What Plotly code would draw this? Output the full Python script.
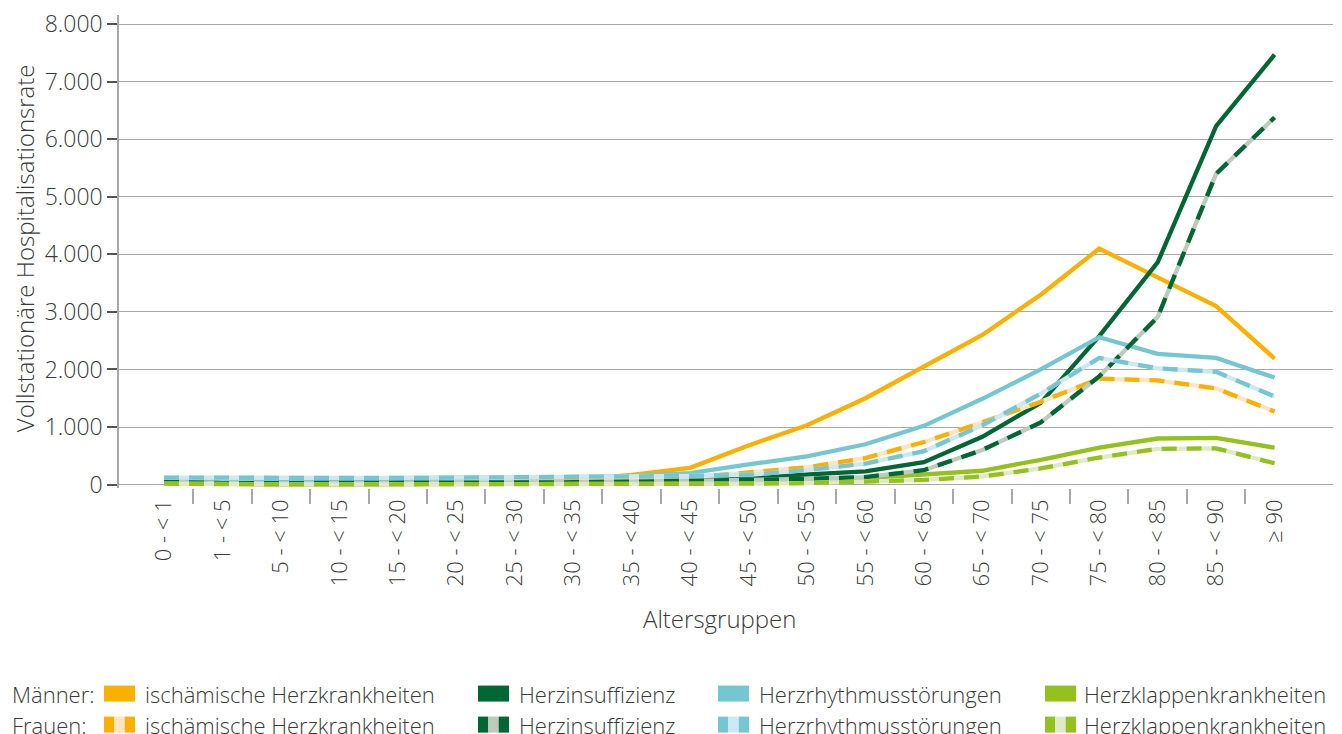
import plotly.graph_objects as go

ages = ["0 - < 1", "1 - < 5", "5 - < 10", "10 - < 15", "15 - < 20", "20 - < 25",
        "25 - < 30", "30 - < 35", "35 - < 40", "40 - < 45", "45 - < 50", "50 - < 55",
        "55 - < 60", "60 - < 65", "65 - < 70", "70 - < 75", "75 - < 80", "80 - < 85",
        "85 - < 90", "≥ 90"]

men_ischaemic = [20, 5, 5, 5, 10, 20, 40, 80, 170, 290, 680, 1030, 1500, 2040, 2600, 3300, 4100, 3600, 3100, 2190]
men_heartfailure = [50, 30, 30, 30, 30, 35, 40, 50, 60, 80, 120, 170, 230, 390, 830, 1420, 2580, 3860, 6230, 7470]
men_arrhythmia = [110, 100, 100, 105, 110, 110, 115, 130, 150, 200, 350, 490, 700, 1020, 1490, 2000, 2560, 2270, 2200, 1860]
men_valve = [20, 5, 5, 5, 5, 5, 5, 5, 10, 20, 30, 50, 110, 170, 240, 430, 640, 800, 810, 640]

women_ischaemic = [30, 20, 20, 20, 25, 30, 40, 55, 80, 125, 210, 300, 460, 740, 1080, 1440, 1840, 1810, 1670, 1270]
women_heartfailure = [50, 25, 25, 25, 25, 30, 35, 40, 50, 60, 80, 100, 130, 250, 600, 1080, 1880, 2910, 5400, 6380]
women_arrhythmia = [120, 115, 115, 115, 115, 120, 125, 130, 135, 150, 170, 250, 365, 580, 1030, 1580, 2200, 2020, 1960, 1530]
women_valve = [15, 3, 3, 3, 3, 3, 3, 3, 5, 10, 15, 25, 45, 80, 140, 280, 470, 620, 630, 370]

disease_names = ["ischämische Herzkrankheiten", "Herzinsuffizienz",
                 "Herzrhythmusstörungen", "Herzklappenkrankheiten"]
colors = ["#F9B000", "#006633", "#74C7D2", "#95C11F"]
light_colors = ["#FDE6BF", "#BCCBBB", "#CDE8F3", "#E1EAC6"]

men = [men_ischaemic, men_heartfailure, men_arrhythmia, men_valve]
women = [women_ischaemic, women_heartfailure, women_arrhythmia, women_valve]

FONT = "Open Sans"
WEIGHT = 300
TXT = "#3a3a3a"
OFF = 8  # default page body margin
W, H = 1342 - OFF, 734 - OFF
# page-pixel targets
PAGE_LEFT, PAGE_RIGHT, PAGE_TOP, PAGE_BOTTOM = 119, 1333, 15, 487.6
ML = PAGE_LEFT - OFF
MR = OFF + W - PAGE_RIGHT
MT = PAGE_TOP - OFF
MB = OFF + H - PAGE_BOTTOM
PW = PAGE_RIGHT - PAGE_LEFT
PH = PAGE_BOTTOM - PAGE_TOP

def px_x(px):
    return (px - PAGE_LEFT) / PW

def px_y(py):
    return (PAGE_BOTTOM - py) / PH

def fnt(size):
    return dict(family=FONT, size=size, color=TXT, weight=WEIGHT)

x = list(range(len(ages)))
fig = go.Figure()

for vals, c, name in zip(men, colors, disease_names):
    fig.add_trace(go.Scatter(x=x, y=vals, mode="lines", name="Männer: " + name,
                             line=dict(color=c, width=4.3), showlegend=False))

for vals, c, lc, name in zip(women, colors, light_colors, disease_names):
    fig.add_trace(go.Scatter(x=x, y=vals, mode="lines", hoverinfo="skip",
                             line=dict(color=lc, width=4.3), showlegend=False))
    fig.add_trace(go.Scatter(x=x, y=vals, mode="lines", name="Frauen: " + name,
                             line=dict(color=c, width=4.3, dash="15px,10px"),
                             showlegend=False))

fig.update_layout(
    width=W, height=H,
    margin=dict(l=ML, r=MR, t=MT, b=MB, pad=0, autoexpand=False),
    plot_bgcolor="white", paper_bgcolor="white",
    separators=",.",
    font=fnt(22),
)

fig.update_xaxes(
    range=[-0.77, 20.0], automargin=False,
    tickmode="array", tickvals=x, ticktext=ages,
    tickangle=-90, ticks="", showgrid=False, zeroline=False, showline=False,
    tickfont=fnt(22),
    ticklabelstandoff=6,
    minor=dict(tickmode="array", tickvals=[i + 0.5 for i in range(len(ages) - 1)],
               ticks="outside", ticklen=15, tickcolor="#a8a8a8", tickwidth=1.5,
               showgrid=False),
)

fig.update_yaxes(
    range=[-60, 8160], automargin=False,
    tickmode="array", tickvals=[0, 1000, 2000, 3000, 4000, 5000, 6000, 7000, 8000],
    tickformat=",d",
    ticks="outside", ticklen=10, tickcolor="#555555", tickwidth=1.5,
    showgrid=True, gridcolor="#a8a8a8", gridwidth=1.3,
    zeroline=False, showline=True, linecolor="#a8a8a8", linewidth=1.5,
    tickfont=fnt(23),
    ticklabeloverflow="allow",
)

annotations = [
    dict(text="Vollstationäre Hospitalisationsrate", textangle=-90,
         x=px_x(24), y=px_y(248), xref="paper", yref="paper",
         xanchor="center", yanchor="middle", showarrow=False, font=fnt(24)),
    dict(text="Altersgruppen", x=px_x(719), y=px_y(618), xref="paper", yref="paper",
         xanchor="center", yanchor="middle", showarrow=False, font=fnt(24)),
]

row_y = [693, 724]
row_labels = ["Männer:", "Frauen:"]
swatch_left = [104, 478, 718, 1045]
swatch_w = 31
swatch_h = 16
text_left = [143, 517, 757, 1082]

shapes = []
for r, (ry, rl) in enumerate(zip(row_y, row_labels)):
    annotations.append(dict(text=rl, x=px_x(10), y=px_y(ry), xref="paper", yref="paper",
                            xanchor="left", yanchor="middle", showarrow=False,
                            font=fnt(22)))
    for i in range(4):
        x0 = swatch_left[i]
        y0, y1 = px_y(ry + swatch_h / 2), px_y(ry - swatch_h / 2)
        if r == 0:
            shapes.append(dict(type="rect", xref="paper", yref="paper",
                               x0=px_x(x0), x1=px_x(x0 + swatch_w), y0=y0, y1=y1,
                               fillcolor=colors[i], line=dict(width=0)))
        else:
            third = swatch_w / 3
            parts = [(0, third, colors[i]), (third, 2 * third, light_colors[i]),
                     (2 * third, swatch_w, colors[i])]
            for a, b, col in parts:
                shapes.append(dict(type="rect", xref="paper", yref="paper",
                                   x0=px_x(x0 + a), x1=px_x(x0 + b), y0=y0, y1=y1,
                                   fillcolor=col, line=dict(width=0)))
        annotations.append(dict(text=disease_names[i], x=px_x(text_left[i]), y=px_y(ry),
                                xref="paper", yref="paper", xanchor="left",
                                yanchor="middle", showarrow=False, font=fnt(22)))

fig.update_layout(annotations=annotations, shapes=shapes)

fig.write_html("out.html")
